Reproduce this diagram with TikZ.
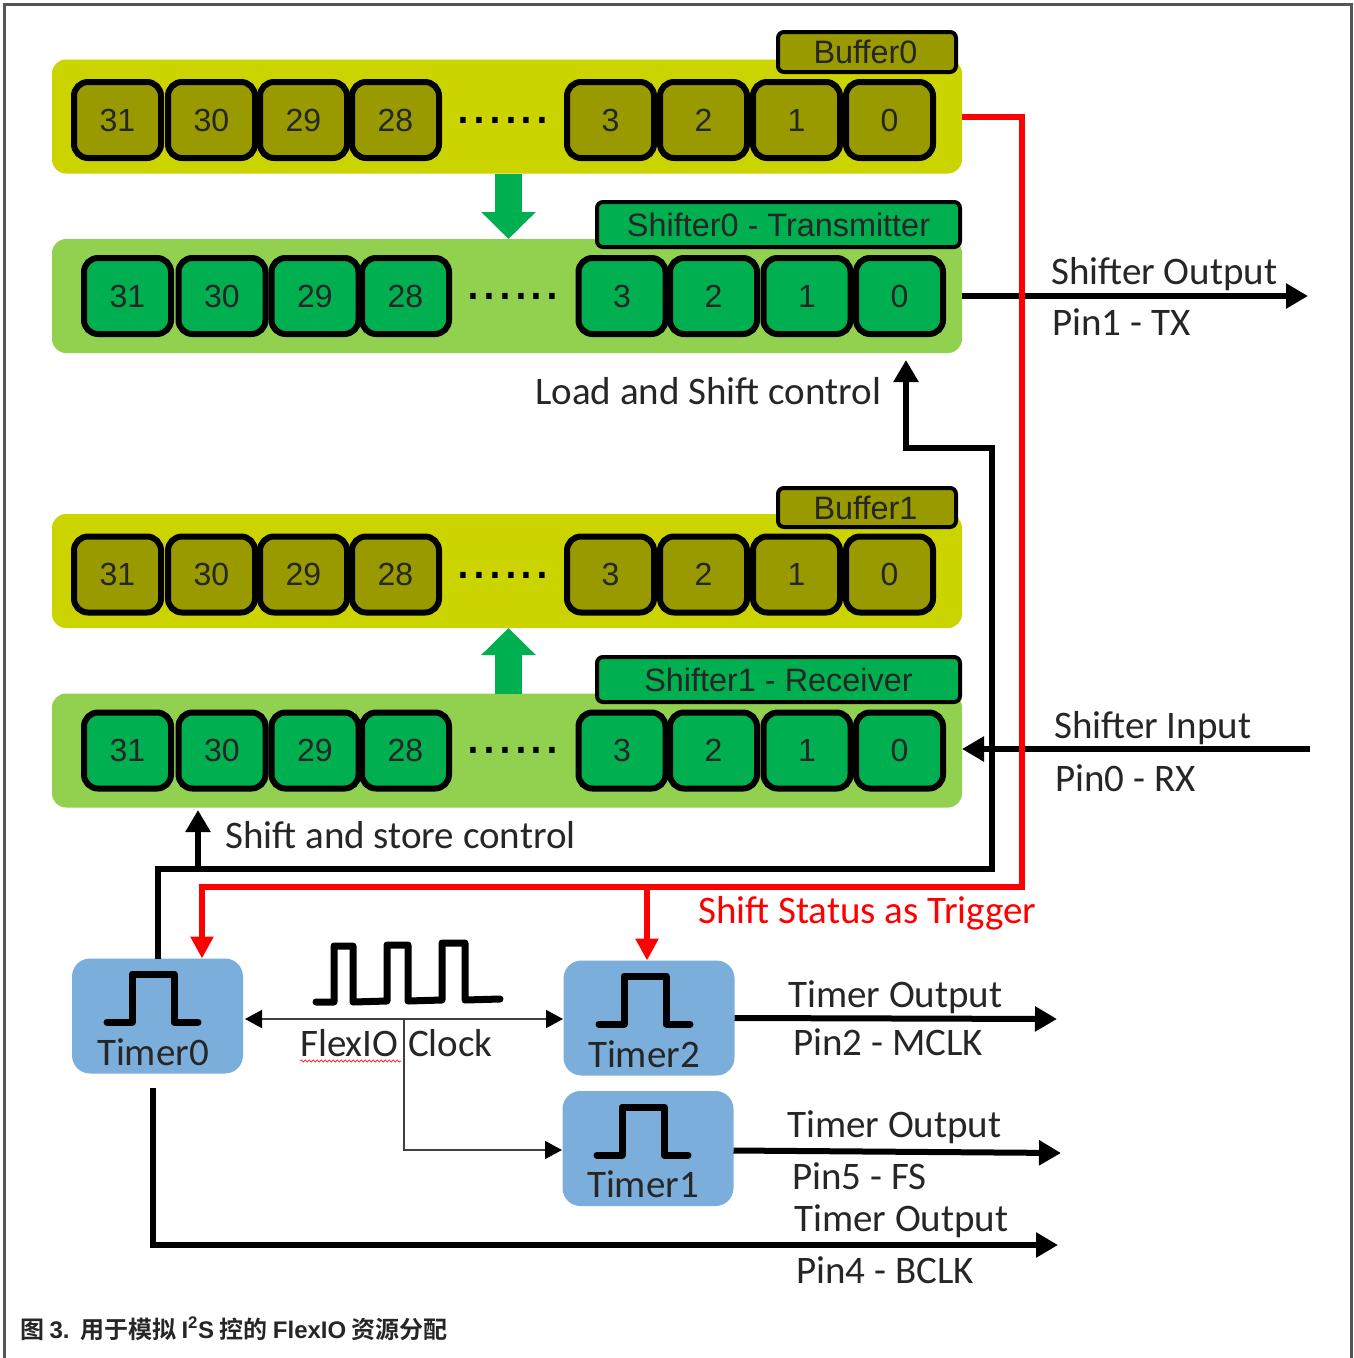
\documentclass[tikz,border=0pt]{standalone}
\usepackage{fontspec}
\setmainfont{Liberation Sans}
\newfontfamily\calfont{Carlito}
\newfontfamily\cjkfont{Noto Sans CJK SC}[BoldFont={Noto Sans CJK SC Bold}]
\usetikzlibrary{arrows.meta,decorations.pathmorphing}
\definecolor{yband}{HTML}{CCD400}
\definecolor{gband}{HTML}{92D050}
\definecolor{ycell}{HTML}{999900}
\definecolor{gcell}{HTML}{00AF50}
\definecolor{tblue}{HTML}{7BAEDB}
\definecolor{ink}{HTML}{262626}
\definecolor{frame}{HTML}{555555}
\tikzset{
  x=1pt,y=-1pt,
  band/.style={rounded corners=14pt,minimum width=910pt,minimum height=114pt,inner sep=0,outer sep=0},
  cell/.style={draw=black,line width=6pt,rounded corners=14pt,minimum width=87pt,minimum height=76pt,inner sep=0,outer sep=0,text=ink,font=\fontsize{32}{34}\selectfont},
  tag/.style={draw=black,line width=4pt,rounded corners=6pt,inner sep=0,outer sep=0,text=ink,font=\fontsize{32.4}{34}\selectfont},
  dotsnode/.style={anchor=base,inner sep=0,font=\fontsize{57}{60}\selectfont},
  lab/.style={anchor=base west,inner sep=0,text=ink,font=\calfont\fontsize{39}{42}\selectfont},
  timer/.style={fill=tblue,rounded corners=18pt,minimum width=171pt,minimum height=115pt,inner sep=0,outer sep=0},
  tlab/.style={anchor=base,inner sep=0,text=ink,font=\calfont\fontsize{39}{42}\selectfont},
  wire/.style={line width=6pt,black,-{Triangle[length=22pt,width=24pt]}},
  redwire/.style={line width=6pt,red,-{Triangle[length=22pt,width=22pt]}},
  thin wire/.style={line width=1.6pt,black!75,{Triangle[length=17pt,width=18pt,black]}-{Triangle[length=17pt,width=18pt,black]}},
  thin one/.style={line width=1.6pt,black!75,-{Triangle[length=17pt,width=18pt,black]}},
  gflow/.style={line width=27pt,gcell,-{Triangle[length=27pt,width=53pt]}},
  pulse/.style={line width=7pt,black,line join=round,line cap=round},
}
\begin{document}
\begin{tikzpicture}
\useasboundingbox (0,0) rectangle (1354,1358);
\fill[white] (0,0) rectangle (1354,1358);
\draw[frame,line width=3pt] (4,1358) -- (4,4) -- (1351,4) -- (1351,1358);

% bands
\node[band,fill=yband] (band0) at (507,116.5) {};
\node[band,fill=gband] (band1) at (507,296) {};
\node[band,fill=yband] (band2) at (507,571) {};
\node[band,fill=gband] (band3) at (507,750.5) {};

% green flow arrows
\draw[gflow] (band0.south -| 508.5,0) -- (band1.north -| 508.5,0);
\draw[gflow] (band3.north -| 508.5,0) -- (band2.south -| 508.5,0);

% cells
\foreach \l/\x in {31/117.5,30/211.5,29/303.5,28/395.5,3/610.5,2/703.5,1/796.5,0/889.5}{
  \node[cell,fill=ycell] (a\l) at (\x,120) {\l};
  \node[cell,fill=ycell] (c\l) at (\x,574.5) {\l};
}
\foreach \l/\x in {31/127.5,30/222,29/315,28/405.5,3/622,2/713.5,1/807,0/899.5}{
  \node[cell,fill=gcell] (b\l) at (\x,296) {\l};
  \node[cell,fill=gcell] (d\l) at (\x,750.5) {\l};
}
\node[dotsnode] (dotsa) at (503,123) {......};
\node[dotsnode] (dotsb) at (513,299) {......};
\node[dotsnode] (dotsc) at (503,578) {......};
\node[dotsnode] (dotsd) at (513,753) {......};

% tags
\node[tag,fill=ycell,minimum width=178pt,minimum height=40pt] (buf0) at (867,52) {Buffer0\kern3pt};
\node[tag,fill=gcell,minimum width=363pt,minimum height=45pt] (sh0) at (778.5,224.5) {Shifter0 - Transmitter};
\node[tag,fill=ycell,minimum width=178pt,minimum height=39pt] (buf1) at (867,507.5) {Buffer1\kern3pt};
\node[tag,fill=gcell,minimum width=363pt,minimum height=45pt] (sh1) at (778.5,679.5) {Shifter1 - Receiver};

% timers
\node[timer] (timer0) at (157.5,1016) {};
\node[timer] (timer2) at (649,1018) {};
\node[timer] (timer1) at (648,1148.5) {};
\node[tlab] (t0l) at (153,1065) {Timer0};
\node[tlab] (t2l) at (644,1067) {Timer2};
\node[tlab] (t1l) at (643,1197) {Timer1};
\draw[pulse] (107,1022) -- (132,1022) -- (132,974) -- (174,974) -- (174,1022) -- (198,1022);
\draw[pulse] (599,1024) -- (624,1024) -- (624,976) -- (666,976) -- (666,1024) -- (690,1024);
\draw[pulse] (597,1155) -- (622,1155) -- (622,1107) -- (664,1107) -- (664,1155) -- (688,1155);
\draw[pulse] (316,1002) -- (334,1002) -- (334,946) -- (353,946) -- (353,1002) -- (387,1001) -- (387,945) -- (408,945) -- (408,1001) -- (442,1000) -- (442,943) -- (465,943) -- (465,1000) -- (500,999);

% free ends
\coordinate (txend) at (1308,296);
\coordinate (rxstart) at (1310,749);
\coordinate (redcorner) at (1022,887);
\coordinate (redleft) at (202,887);
\coordinate (ctrltip) at (906,360);
\coordinate (ctrlturn) at (992,448);
\coordinate (blackturn) at (992,869);
\coordinate (storetip) at (198,810);
\coordinate (storebase) at (198,869);
\coordinate (bclkstart) at (153,1088);
\coordinate (bclkend) at (1058,1245);
\coordinate (mclkend) at (1057,1019);
\coordinate (fsend) at (1061,1153);
\coordinate (clockleft) at (245,1019);
\coordinate (clockright) at (563,1019);
\coordinate (clockjoin) at (404,1019);
\coordinate (timer1in) at (562,1150);

% connectors
\draw[wire] (band1.east) -- (txend);
\draw[wire] (rxstart) -- (rxstart -| band3.east);
\draw[wire,line join=miter] (timer0.north) |- (blackturn) -- (ctrlturn) -| (ctrltip);
\draw[wire] (storebase) -- (storetip);
\draw[wire,line join=miter] (bclkstart) |- (bclkend);
\draw[wire] (timer2.east) -- (mclkend);
\draw[wire] ([yshift=-2pt]timer1.east) -- (fsend);
\draw[redwire,line join=miter] (band0.east) -| (redcorner) -- (redleft) -- ([xshift=44.5pt]timer0.north);
\draw[redwire] (redleft -| 647,0) -- ([xshift=-2pt]timer2.north);
\draw[thin wire] (clockleft) -- (clockright);
\draw[thin one] (clockjoin) |- (timer1in);

% labels
\node[lab] (so) at (1051,284) {Shifter Output};
\node[lab] (p1) at (1052,335) {Pin1 - TX};
\node[lab] (lsc) at (535,404) {Load and Shift control};
\node[lab] (ssc) at (225,848) {Shift and store control};
\node[lab] (si) at (1054,738) {Shifter Input};
\node[lab] (p0) at (1055,791) {Pin0 - RX};
\node[lab,text=red] (sst) at (698,923) {Shift Status as Trigger};
\node[lab] (fx) at (300,1056) {FlexIO};
\node[lab] (ck) at (408,1056) {Clock};
\node[lab] (to2) at (788,1007) {Timer Output};
\node[lab] (p2) at (793,1055) {Pin2 - MCLK};
\node[lab] (to1) at (787,1137) {Timer Output};
\node[lab] (p5) at (792,1189) {Pin5 - FS};
\node[lab] (to4) at (794,1231) {Timer Output};
\node[lab] (p4) at (796,1283) {Pin4 - BCLK};
\draw[red!80,line width=.8pt,decorate,decoration={snake,amplitude=1.1pt,segment length=4pt}] (300,1061) -- (401,1061);

% caption
\node[anchor=base west,inner sep=0,text=ink,font=\cjkfont\bfseries\fontsize{24}{26}\selectfont] (cap) at (20,1338)
  {图 {\rmfamily\bfseries 3.}\kern5pt\ 用于模拟 {\rmfamily\bfseries I\textsuperscript{2}S} 控的 {\rmfamily\bfseries FlexIO} 资源分配};
\end{tikzpicture}
\end{document}
